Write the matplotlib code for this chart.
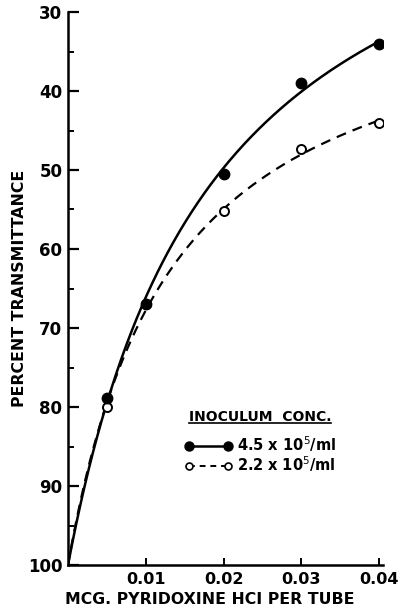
import numpy as np
import matplotlib
matplotlib.use("Agg")
import matplotlib.pyplot as plt
from matplotlib.lines import Line2D

# ---- data ----
dose = [0.005, 0.01, 0.02, 0.03, 0.04]
high_inoc = [78.8, 67.0, 50.5, 39.0, 34.0]   # 4.5 x 10^5 /ml (filled)
low_inoc = [80.0, 67.0, 55.2, 47.4, 44.1]    # 2.2 x 10^5 /ml (open)
origin_dose = 0.0
origin_pct = 100.0
xticks = [0.01, 0.02, 0.03, 0.04]
xticklabels = ["0.01", "0.02", "0.03", "0.04"]
yticks = [30, 40, 50, 60, 70, 80, 90, 100]
label_high = "4.5 x 10$^5$/ml"
label_low = "2.2 x 10$^5$/ml"
legend_title = "INOCULUM  CONC."

plt.rcParams['font.family'] = ['DejaVu Sans']
fig = plt.figure(figsize=(4.02, 6.12), dpi=100)
ax = fig.add_axes([68/402, 1-565/612, (383-68)/402, (565-12)/612])


def smooth_curve(xs, ys):
    # hyperbolic (saturation) fit: 100 - y = A*x/(K + x), linearised
    x = np.array(xs)
    d = origin_pct - np.array(ys)
    slope, icpt = np.polyfit(x, x / d, 1)
    A = 1.0 / slope
    K = icpt * A
    xx = np.linspace(origin_dose, max(xs), 300)
    return xx, origin_pct - A * xx / (K + xx)

xx, yy = smooth_curve(dose, high_inoc)
ax.plot(xx, yy, color='black', lw=1.8, solid_capstyle='round', zorder=2)
xx2, yy2 = smooth_curve(dose, low_inoc)
ax.plot(xx2, yy2, color='black', lw=1.6, dashes=(4.5, 3.2), zorder=2)

ax.plot(dose, high_inoc, 'o', color='black', ms=7.5, zorder=4)
ax.plot(dose, low_inoc, 'o', mfc='white', mec='black', mew=1.4, ms=6.5, zorder=3)

ax.set_xlim(0, 0.0405)
ax.set_ylim(100, 30)

for s in ['top', 'right']:
    ax.spines[s].set_visible(False)
for s in ['left', 'bottom']:
    ax.spines[s].set_linewidth(1.8)

ax.set_xticks(xticks)
ax.set_xticklabels(xticklabels)
ax.set_yticks(yticks)
ax.set_yticks([35, 45, 55, 65, 75, 85, 95], minor=True)
ax.tick_params(axis='y', which='major', direction='in', length=8, width=1.6,
               labelsize=12, pad=4)
ax.tick_params(axis='y', which='minor', direction='in', length=4.5, width=1.4)
ax.tick_params(axis='x', which='major', direction='in', length=5, width=1.4,
               labelsize=11.5, pad=5)
for t in ax.get_yticklabels() + ax.get_xticklabels():
    t.set_fontweight('bold')

ax.set_xlabel("MCG. PYRIDOXINE HCI PER TUBE", fontsize=11.3, fontweight='bold')
ax.set_ylabel("PERCENT TRANSMITTANCE", fontsize=11.3, fontweight='bold')
ax.xaxis.set_label_coords(0.45, -0.063)
ax.yaxis.set_label_coords(-0.155, 0.5)
ax.xaxis.label.set_va('center')
ax.yaxis.label.set_va('center')

handles = [
    Line2D([], [], color='black', lw=1.8, marker='o', ms=6.5),
    Line2D([], [], color='black', lw=1.4, dashes=(3, 2.5), marker='o', ms=5,
           mfc='white', mec='black', mew=1.2),
]
leg = ax.legend(handles, [label_high, label_low], loc='center left',
                bbox_to_anchor=(0.346, 0.2), frameon=False, numpoints=2,
                handlelength=3.3, handletextpad=0.3, labelspacing=0.0,
                borderpad=0.0, fontsize=10.5)
for t in leg.get_texts():
    t.set_fontweight('bold')

ttl = ax.text(0.61, 0.268, legend_title, transform=ax.transAxes, ha='center',
              va='center', fontsize=10, fontweight='bold')

fig.canvas.draw()
tb = ttl.get_window_extent()
inv = fig.transFigure.inverted()
(x0, y0), (x1, y1) = inv.transform([[tb.x0, tb.y0 + 1], [tb.x1, tb.y0 + 1]])
fig.add_artist(Line2D([x0, x1], [y0, y1], color='black', lw=1.2,
                      transform=fig.transFigure))

fig.savefig("out.png", dpi=100)
